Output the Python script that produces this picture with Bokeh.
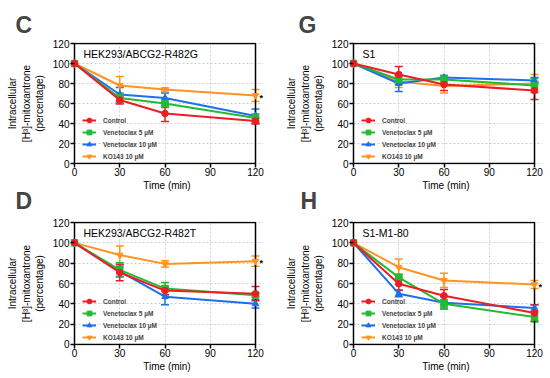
from bokeh.plotting import figure
from bokeh.layouts import gridplot
from bokeh.models import (Range1d, Whisker, TeeHead, ColumnDataSource, Legend,
                          LegendItem, Label, FixedTicker, Title)
from bokeh.embed import file_html
from bokeh.resources import INLINE

# ---------------- data ----------------
TIME = [0, 30, 60, 120]
X_TICKS = [0, 30, 60, 90, 120]
Y_TICKS = [0, 20, 40, 60, 80, 100, 120]
SERIES = ["Control", "Venetoclax 5 µM", "Venetoclax 10 µM", "KO143 10 µM"]

# Panel C: HEK293/ABCG2-R482G
C_control = [100, 63.5, 50, 42.5]
C_control_err = [0, 4, 8, 3]
C_ven5 = [100, 65.5, 60, 45.5]
C_ven5_err = [0, 5, 4, 4]
C_ven10 = [100, 69, 65.5, 47.5]
C_ven10_err = [0, 7, 5, 7]
C_ko143 = [100, 78, 74, 68]
C_ko143_err = [0, 9, 1.5, 6]

# Panel G: S1
G_control = [100, 89, 79, 73]
G_control_err = [0, 8, 6, 9]
G_ven5 = [100, 84, 84, 78]
G_ven5_err = [0, 5, 4, 7]
G_ven10 = [100, 80, 86, 83]
G_ven10_err = [0, 8, 2, 3]
G_ko143 = [100, 82, 77.5, 80]
G_ko143_err = [0, 6, 7, 9]

# Panel D: HEK293/ABCG2-R482T
D_control = [100, 70.8, 53, 50]
D_control_err = [0, 8, 4, 7]
D_ven5 = [100, 73.4, 55, 48.5]
D_ven5_err = [0, 7, 6, 2]
D_ven10 = [100, 72, 47, 40]
D_ven10_err = [0, 5, 8, 4]
D_ko143 = [100, 88, 79.3, 82]
D_ko143_err = [0, 9, 3, 5]

# Panel H: S1-M1-80
H_control = [100, 59.7, 48, 31]
H_control_err = [0, 6, 6, 8]
H_ven5 = [100, 66, 40, 27]
H_ven5_err = [0, 3, 4, 5]
H_ven10 = [100, 50, 41, 36]
H_ven10_err = [0, 3, 6, 3]
H_ko143 = [100, 76, 63, 59]
H_ko143_err = [0, 8, 7, 4]

COLORS = ["#EE1C25", "#22BB33", "#1F6FEB", "#FF9420"]
MARKERS = ["circle", "square", "triangle", "inverted_triangle"]
FONT = "Liberation Sans"
Y_LABEL = "Intracellular\n[H³]-mitoxantrone\n(percentage)"
X_LABEL = "Time (min)"


def panel(letter, cell_name, values, errors, star, frame_h,
          bl, br, bt, bb, letter_dx, next_letter=None, next_dx=0):
    p = figure(frame_width=193, frame_height=frame_h,
               x_range=Range1d(-2.65, 125.3), y_range=Range1d(-1, 121),
               output_backend="svg", toolbar_location=None,
               min_border_left=bl, min_border_right=br,
               min_border_top=bt, min_border_bottom=bb,
               background_fill_color="white", border_fill_color="white")
    p.outline_line_color = None

    if letter:
        p.title.text = letter
        p.title.text_font = FONT
        p.title.text_font_size = "23px"
        p.title.text_font_style = "bold"
        p.title.align = "left"
        p.title.offset = letter_dx
        p.title.standoff = 10

    # grid
    for g in (p.xgrid, p.ygrid):
        g.grid_line_color = "#cfcfcf"
        g.grid_line_dash = "2 2"
        g.grid_line_width = 1
    p.xaxis.ticker = FixedTicker(ticks=X_TICKS)
    p.yaxis.ticker = FixedTicker(ticks=Y_TICKS)

    for ax in (p.xaxis, p.yaxis):
        ax.axis_line_color = None
        ax.major_tick_line_color = "black"
        ax.major_tick_line_width = 1.5
        ax.minor_tick_line_color = None
        ax.major_label_text_font = FONT
        ax.major_label_text_font_size = "10px"
        ax.major_label_text_color = "black"
        ax.axis_label_text_font = FONT
        ax.axis_label_text_font_size = "10px"
        ax.axis_label_text_font_style = "normal"
        ax.axis_label_text_color = "black"
    p.yaxis.major_tick_in = 4
    p.yaxis.major_tick_out = 0
    p.yaxis.major_label_standoff = 1
    p.yaxis.axis_label = Y_LABEL
    p.yaxis.axis_label_standoff = 5
    p.xaxis.major_tick_in = 1
    p.xaxis.major_tick_out = 3
    p.xaxis.major_label_standoff = 0
    p.xaxis.axis_label = X_LABEL
    p.xaxis.axis_label_standoff = 1

    # letter of the panel below, placed under this panel's x axis
    if next_letter:
        p.add_layout(Title(text=next_letter, text_font=FONT,
                           text_font_size="23px", text_font_style="bold",
                           align="left", offset=next_dx, standoff=-16),
                     "below")

    # plot box
    p.quad(left=[min(X_TICKS)], right=[max(X_TICKS)],
           bottom=[min(Y_TICKS)], top=[max(Y_TICKS)],
           fill_color=None, line_color="black", line_width=1.5)

    items = [None] * 4
    for i in [3, 2, 1, 0]:
        v, e, c, m = values[i], errors[i], COLORS[i], MARKERS[i]
        xs = [t for t, ee in zip(TIME, e) if ee > 0]
        up = [vv + ee for vv, ee in zip(v, e) if ee > 0]
        lo = [vv - ee for vv, ee in zip(v, e) if ee > 0]
        wsrc = ColumnDataSource(dict(x=xs, upper=up, lower=lo))
        w = Whisker(base="x", upper="upper", lower="lower", source=wsrc,
                    line_color=c, line_width=1.5,
                    upper_head=TeeHead(size=8, line_color=c, line_width=1.5),
                    lower_head=TeeHead(size=8, line_color=c, line_width=1.5))
        p.add_layout(w)
        src = ColumnDataSource(dict(x=TIME, y=v))
        lr = p.line("x", "y", source=src, line_color=c, line_width=2)
        sr = p.scatter("x", "y", source=src, marker=m, size=6.5,
                       fill_color=c, line_color=c)
        items[i] = LegendItem(label=SERIES[i], renderers=[lr, sr])

    legend = Legend(items=items, location=(12, 2),
                    background_fill_alpha=0, border_line_color=None,
                    padding=0, margin=0, spacing=0,
                    glyph_width=14, glyph_height=12, label_height=12,
                    label_standoff=7, label_text_font=FONT,
                    label_text_font_size="6.5px",
                    label_text_font_style="bold")
    p.add_layout(legend)

    # cell line name
    p.add_layout(Label(x=X_TICKS[0], y=Y_TICKS[-1], x_offset=9, y_offset=-10,
                       text=cell_name, text_font=FONT, text_font_size="10.5px",
                       text_baseline="middle", text_color="black"))
    if star:
        p.add_layout(Label(x=TIME[-1], y=values[3][-1], x_offset=4, y_offset=-2,
                           text="*", text_font=FONT, text_font_size="9px",
                           text_font_style="bold", text_baseline="middle",
                           text_color="black"))
    return p


pC = panel("C", "HEK293/ABCG2-R482G",
           [C_control, C_ven5, C_ven10, C_ko143],
           [C_control_err, C_ven5_err, C_ven10_err, C_ko143_err],
           True, 122, 70, 12, 42, 51, -55, next_letter="D", next_dx=-55)
pG = panel("G", "S1",
           [G_control, G_ven5, G_ven10, G_ko143],
           [G_control_err, G_ven5_err, G_ven10_err, G_ko143_err],
           False, 122, 74, 6, 42, 51, -51, next_letter="H", next_dx=-49)
pD = panel(None, "HEK293/ABCG2-R482T",
           [D_control, D_ven5, D_ven10, D_ko143],
           [D_control_err, D_ven5_err, D_ven10_err, D_ko143_err],
           True, 124, 70, 12, 6, 31, 0)
pH = panel(None, "S1-M1-80",
           [H_control, H_ven5, H_ven10, H_ko143],
           [H_control_err, H_ven5_err, H_ven10_err, H_ko143_err],
           True, 124, 74, 6, 6, 31, 0)

layout = gridplot([[pC, pG], [pD, pH]], toolbar_location=None)

with open("out.html", "w") as f:
    f.write(file_html(layout, INLINE))
